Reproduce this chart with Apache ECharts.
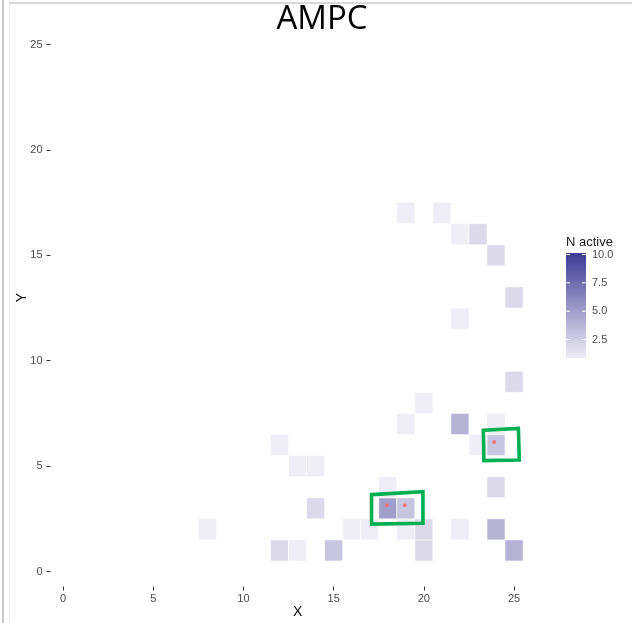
<!DOCTYPE html>
<html>
<head>
<meta charset="utf-8">
<script src="https://cdn.jsdelivr.net/npm/echarts@6/dist/echarts.min.js"></script>
<style>
  html, body { margin: 0; padding: 0; background: #ffffff; }
  #chart { width: 632px; height: 623px; }
</style>
</head>
<body>
<div id="chart"></div>
<script>
// Tile positions (X, Y) and the number of active cells in each tile
const tileX   = [8, 12, 13, 15, 20, 25, 16, 17, 19, 20, 22, 24, 14, 18, 19, 18, 24, 13, 14, 12, 23, 24, 19, 22, 24, 20, 25, 22, 25, 24, 22, 23, 19, 21];
const tileY   = [2,  1,  1,  1,  1,  1,  2,  2,  2,  2,  2,  2,  3,  3,  3,  4,  4,  5,  5,  6,  6,  6,  7,  7,  7,  8,  9, 12, 13, 15, 16, 16, 17, 17];
const nActive = [1,  2,  1,  3,  2,  4,  1,  1,  1,  2,  1,  4,  2,  5,  3,  1,  2,  1,  1,  1,  1,  3,  1,  4,  1,  1,  2,  1,  2,  2,  1,  2,  1,  1];

// Axis ticks and colour-bar ticks
const axisTicks   = [0, 5, 10, 15, 20, 25];
const legendTicks = [2.5, 5, 7.5, 10];
const colorMin = 1, colorMax = 10;

// Highlighted cells (red markers)
const markX = [17.95, 18.93, 23.9];
const markY = [3.15, 3.15, 6.14];

// Hand-drawn outline boxes, corners in data units
const boxCornersX = [[17.10, 19.95, 19.95, 17.10], [23.30, 25.24, 25.29, 23.33]];
const boxCornersY = [[3.65, 3.79, 2.29, 2.25], [6.70, 6.79, 5.29, 5.26]];

const lowColor = '#efedf5', midColor = '#9894c6', highColor = '#3c3a95';

const tileData = tileX.map((x, i) => [x, tileY[i], nActive[i]]);
const markData = markX.map((x, i) => [x, markY[i]]);
const boxData = boxCornersX.map((xs, i) => [xs[0], boxCornersY[i][0], i]);

const chart = echarts.init(document.getElementById('chart'), null, { renderer: 'canvas' });

// colour bar geometry
const barLeft = 566, barWidth = 20, barTop = 253, barBottom = 358;
const yTop = 254.5, yBottom = 356.5;
const legendY = v => yBottom - (v - colorMin) / (colorMax - colorMin) * (yBottom - yTop);

const legendGraphics = [
  { type: 'text', left: 566, top: 236, style: { text: 'N active', font: '13px "Liberation Sans", Arial, sans-serif', fill: '#1a1a1a' } },
  { type: 'rect', shape: { x: barLeft, y: barTop, width: barWidth, height: barBottom - barTop },
    style: { fill: new echarts.graphic.LinearGradient(0, 0, 0, 1, [
      { offset: 0, color: highColor }, { offset: 0.5, color: midColor }, { offset: 1, color: lowColor }]) } }
];
legendTicks.forEach(v => {
  const y = legendY(v);
  legendGraphics.push(
    { type: 'line', shape: { x1: barLeft, y1: y, x2: barLeft + 4, y2: y }, style: { stroke: '#ffffff', lineWidth: 1 } },
    { type: 'line', shape: { x1: barLeft + barWidth - 4, y1: y, x2: barLeft + barWidth, y2: y }, style: { stroke: '#ffffff', lineWidth: 1 } },
    { type: 'text', x: 592, y: y, style: { text: v.toFixed(1), font: '11px "Liberation Sans", Arial, sans-serif', fill: '#4d4d4d', verticalAlign: 'middle' } }
  );
});

// page frame and heading
const frameGraphics = [
  { type: 'line', shape: { x1: 3, y1: 0, x2: 3, y2: 623 }, style: { stroke: '#c8c8c8', lineWidth: 2 } },
  { type: 'line', shape: { x1: 9.5, y1: 3, x2: 9.5, y2: 623 }, style: { stroke: '#ececec', lineWidth: 1 } },
  { type: 'line', shape: { x1: 9, y1: 3, x2: 632, y2: 3 }, style: { stroke: '#cccccc', lineWidth: 1.5 } },
  { type: 'text', x: 322, y: 20, style: { text: 'AMPC', font: '33px "Open Sans", sans-serif', fill: '#000000', textAlign: 'center', verticalAlign: 'middle' } }
];

const axisCommon = {
  type: 'value',
  axisLine: { show: false, onZero: false },
  splitLine: { show: false },
  axisTick: { show: true, length: 4, lineStyle: { color: '#333333', width: 1 }, customValues: axisTicks },
  axisLabel: { color: '#4d4d4d', fontSize: 11, fontFamily: '"Liberation Sans", Arial, sans-serif', customValues: axisTicks },
  nameLocation: 'middle',
  nameMoveOverlap: false,
  nameTextStyle: { color: '#000000', fontSize: 14, fontFamily: '"Liberation Sans", Arial, sans-serif' }
};

chart.setOption({
  animation: false,
  backgroundColor: '#ffffff',
  grid: { left: 50.5, right: 87.3, top: 8.7, bottom: 36.5, outerBoundsMode: 'none', containLabel: false },
  xAxis: Object.assign({}, axisCommon, {
    min: -0.7, max: 26.7, name: 'X', nameGap: 19,
    axisLabel: Object.assign({}, axisCommon.axisLabel, { margin: 7 })
  }),
  yAxis: Object.assign({}, axisCommon, {
    min: -0.71, max: 26.7, name: 'Y', nameGap: 21, nameRotate: 90,
    axisLabel: Object.assign({}, axisCommon.axisLabel, { margin: 8 })
  }),
  visualMap: {
    show: false, type: 'continuous', min: colorMin, max: colorMax, dimension: 2, seriesIndex: 0,
    inRange: { color: [lowColor, midColor, highColor] }
  },
  graphic: frameGraphics.concat(legendGraphics),
  series: [
    {
      type: 'custom',
      data: tileData,
      encode: { x: 0, y: 1 },
      renderItem: function (params, api) {
        const c = api.coord([api.value(0), api.value(1)]);
        const s = api.size([1, 1]);
        return {
          type: 'rect',
          shape: { x: c[0] - s[0] / 2, y: c[1] - s[1] / 2, width: s[0], height: s[1] },
          style: { fill: api.visual('color'), stroke: '#ffffff', lineWidth: 0.6 }
        };
      }
    },
    {
      type: 'scatter',
      data: markData,
      symbol: 'circle',
      symbolSize: 4,
      itemStyle: { color: '#f07272', opacity: 0.9 },
      z: 3
    },
    {
      type: 'custom',
      data: boxData,
      encode: { x: 0, y: 1 },
      z: 4,
      renderItem: function (params, api) {
        const i = api.value(2);
        const pts = boxCornersX[i].map((x, k) => api.coord([x, boxCornersY[i][k]]));
        return {
          type: 'polygon',
          shape: { points: pts },
          style: { fill: 'none', stroke: '#00b050', lineWidth: 3.6, lineJoin: 'miter' }
        };
      }
    }
  ]
});
</script>
</body>
</html>
